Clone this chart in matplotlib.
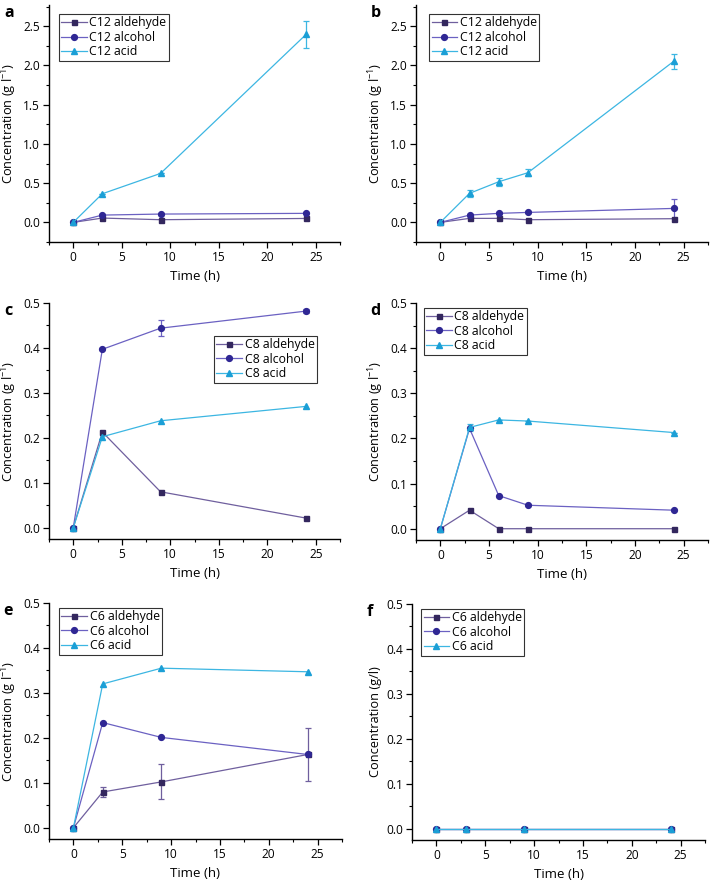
import matplotlib
matplotlib.use('Agg')
import matplotlib.pyplot as plt
import matplotlib.ticker as ticker

plt.rcParams['font.family'] = ['Open Sans', 'DejaVu Sans']
plt.rcParams['mathtext.fontset'] = 'custom'
plt.rcParams['mathtext.rm'] = 'Open Sans'

# ---- data ----
t_a = [0, 3, 9, 24]
a_ald = [0.0, 0.055, 0.034, 0.05]
a_alc = [0.0, 0.093, 0.106, 0.115]
a_acid = [0.0, 0.365, 0.624, 2.395]
a_acid_err = [0.0, 0.0, 0.0, 0.17]

t_b = [0, 3, 6, 9, 24]
b_ald = [0.0, 0.051, 0.051, 0.034, 0.047]
b_alc = [0.0, 0.093, 0.115, 0.127, 0.178]
b_alc_err = [0.0, 0.0, 0.0, 0.0, 0.12]
b_acid = [0.0, 0.37, 0.518, 0.633, 2.055]
b_acid_err = [0.0, 0.045, 0.05, 0.045, 0.095]

t_c = [0, 3, 9, 24]
c_ald = [0.0, 0.213, 0.080, 0.0215]
c_alc = [0.0, 0.397, 0.444, 0.482]
c_alc_err = [0.0, 0.0, 0.018, 0.005]
c_acid = [0.0, 0.2025, 0.238, 0.270]

t_d = [0, 3, 6, 9, 24]
d_ald = [0.0, 0.041, 0.0, 0.0, 0.0]
d_alc = [0.0, 0.222, 0.0733, 0.052, 0.041]
d_acid = [0.0, 0.2244, 0.241, 0.2385, 0.213]
d_acid_err = [0.0, 0.008, 0.0, 0.0, 0.0]

t_e = [0, 3, 9, 24]
e_ald = [0.0, 0.0796, 0.102, 0.163]
e_ald_err = [0.0, 0.012, 0.039, 0.06]
e_alc = [0.0, 0.234, 0.201, 0.163]
e_acid = [0.0, 0.320, 0.355, 0.347]

t_f = [0, 3, 9, 24]
f_ald = [0.0, 0.0, 0.0, 0.0]
f_alc = [0.0, 0.0, 0.0, 0.0]
f_acid = [0.0, 0.0, 0.0, 0.0]

# colours
ald_mk, ald_ln = '#33275e', '#6f5f9e'
alc_mk, alc_ln = '#2f2794', '#6b61c2'
acid_mk, acid_ln = '#1b9fd6', '#3cb6e2'

fig = plt.figure(figsize=(7.1, 8.8), dpi=100)


def px_axes(l, t, r, b):
    W, H = 710.0, 880.0
    return fig.add_axes([l / W, 1 - b / H, (r - l) / W, (b - t) / H])


def series(ax, t, y, err, mk, ln, marker, ms, label):
    ax.plot(t, y, color=ln, lw=0.9, marker=marker, ms=ms,
            mfc=mk, mec=mk, label=label, zorder=3)
    if err is not None:
        ax.errorbar(t, y, yerr=err, fmt='none', ecolor=ln, elinewidth=0.9,
                    capsize=2.5, capthick=0.9, zorder=2)


def panel(box, letter, t, ald, alc, acid, errs, chain, ylim, ymaj, ymin,
          ylab, leg_xy):
    ax = px_axes(*box)
    series(ax, t, ald, errs[0], ald_mk, ald_ln, 's', 3.6, chain + ' aldehyde')
    series(ax, t, alc, errs[1], alc_mk, alc_ln, 'o', 4.2, chain + ' alcohol')
    series(ax, t, acid, errs[2], acid_mk, acid_ln, '^', 4.8, chain + ' acid')
    ax.set_xlim(-2.5, 27.5)
    ax.set_ylim(ylim)
    ax.xaxis.set_major_locator(ticker.MultipleLocator(5))
    ax.xaxis.set_minor_locator(ticker.MultipleLocator(2.5))
    ax.yaxis.set_major_locator(ticker.MultipleLocator(ymaj))
    ax.yaxis.set_minor_locator(ticker.MultipleLocator(ymin))
    ax.yaxis.set_major_formatter(ticker.FormatStrFormatter('%.1f'))
    for s in ['top', 'right']:
        ax.spines[s].set_visible(False)
    for s in ['left', 'bottom']:
        ax.spines[s].set_linewidth(1.0)
    ax.tick_params(which='major', direction='out', length=4, width=0.9,
                   labelsize=8.6, pad=2.5)
    ax.tick_params(which='minor', direction='out', length=2.2, width=0.8)
    ax.set_xlabel('Time (h)', fontsize=9.5, labelpad=4)
    ax.set_ylabel(ylab, fontsize=9.2, labelpad=3)
    leg = ax.legend(loc='upper left', bbox_to_anchor=leg_xy, fontsize=8.8,
                    frameon=True, fancybox=False, edgecolor='black',
                    handlelength=2.1, handletextpad=0.2, borderpad=0.2,
                    labelspacing=0.12, borderaxespad=0)
    leg.get_frame().set_linewidth(0.8)
    ax.text(-0.155, 1.0, letter, transform=ax.transAxes, fontsize=11.5,
            fontweight='bold', va='top', ha='left')
    return ax


lab = 'Concentration (g l$^{\\mathregular{-1}}$)'

panel((49, 5, 340, 242), 'a', t_a, a_ald, a_alc, a_acid,
      (None, None, a_acid_err), 'C12', (-0.25, 2.77), 0.5, 0.25, lab,
      (0.034, 0.962))
panel((416, 5, 708, 242), 'b', t_b, b_ald, b_alc, b_acid,
      (None, b_alc_err, b_acid_err), 'C12', (-0.25, 2.77), 0.5, 0.25, lab,
      (0.045, 0.962))
panel((49, 303, 340, 539), 'c', t_c, c_ald, c_alc, c_acid,
      (None, c_alc_err, None), 'C8', (-0.025, 0.5), 0.1, 0.05, lab,
      (0.567, 0.861))
panel((416, 303, 708, 540), 'd', t_d, d_ald, d_alc, d_acid,
      (None, None, d_acid_err), 'C8', (-0.025, 0.5), 0.1, 0.05, lab,
      (0.027, 0.98))
panel((49, 603, 342, 839), 'e', t_e, e_ald, e_alc, e_acid,
      (e_ald_err, None, None), 'C6', (-0.025, 0.5), 0.1, 0.05, lab,
      (0.034, 0.98))
panel((412, 604, 705, 840), 'f', t_f, f_ald, f_alc, f_acid,
      (None, None, None), 'C6', (-0.025, 0.5), 0.1, 0.05,
      'Concentration (g/l)', (0.031, 0.98))

fig.savefig('out.png', dpi=100)
